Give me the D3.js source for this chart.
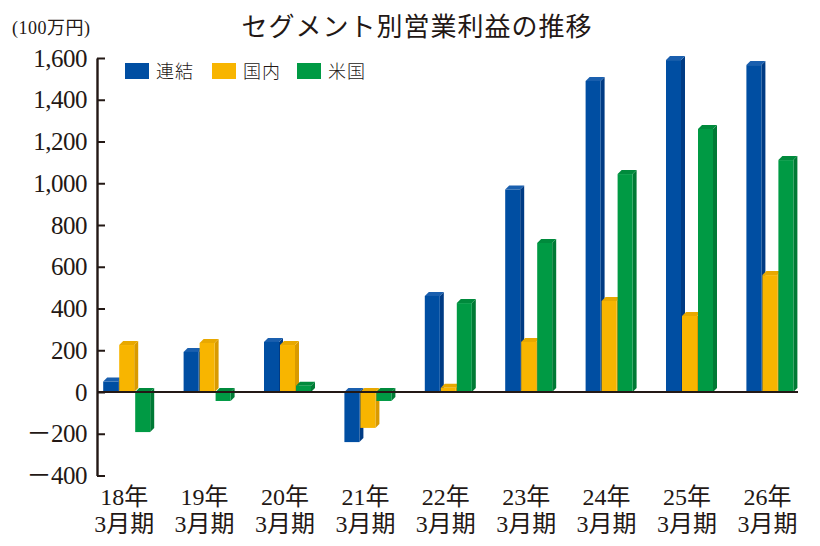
<!DOCTYPE html>
<html>
<head>
<meta charset="utf-8">
<script src="https://cdn.jsdelivr.net/npm/d3@7"></script>
<style>
  body { margin: 0; background: #fff; }
  svg { display: block; }
</style>
</head>
<body>
<svg id="chart"></svg>
<script>
// data
const periods = ['18年', '19年', '20年', '21年', '22年', '23年', '24年', '25年', '26年'];
const seriesNames = ['連結', '国内', '米国'];
const consolidated = [50, 192, 240, -240, 460, 970, 1490, 1590, 1566];
const domestic = [225, 235, 225, -172, 20, 240, 436, 364, 560];
const us = [-192, -43, 30, -43, 426, 714, 1044, 1260, 1111];
const yTicks = [-400, -200, 0, 200, 400, 600, 800, 1000, 1200, 1400, 1600];

const w = 820, h = 546;
const ink = '#231815';
const front = ['#004ea2', '#f8b500', '#009a44'];
const side = ['#003b84', '#d99a00', '#007a35'];
const cap = ['#1a5fae', '#e8a800', '#008a3c'];
const dep = 4; // 3D depth

const svg = d3.select('#chart').attr('width', w).attr('height', h);

const ys = d3.scaleLinear().domain([-400, 1600]).range([475.5, 58]);
const xs = d3.scaleBand().domain(periods).range([87, 810.6]);
const xi = d3.scaleBand().domain(seriesNames).range([-24, 24]);
const barW = 15;

const table = periods.map((p, i) => ({
  period: p,
  vals: [consolidated[i], domestic[i], us[i]]
}));

// bars
const groups = svg.append('g')
  .selectAll('g')
  .data(table)
  .enter()
  .append('g')
  .attr('transform', d => 'translate(' + (xs(d.period) + xs.bandwidth() / 2) + ',0)');

groups.each(function(d) {
  const g = d3.select(this);
  d.vals.forEach((v, k) => {
    const x0 = xi(seriesNames[k]);
    const x1 = x0 + barW;
    const yTop = Math.min(ys(v), ys(0));
    const yBot = Math.max(ys(v), ys(0));
    // side face
    g.append('polygon')
      .attr('points', [[x1, yTop], [x1 + dep, yTop - dep], [x1 + dep, yBot - dep], [x1, yBot]].join(' '))
      .attr('fill', side[k]);
    // top face
    g.append('polygon')
      .attr('points', [[x0, yTop], [x0 + dep, yTop - dep], [x1 + dep, yTop - dep], [x1, yTop]].join(' '))
      .attr('fill', cap[k]);
    // front face
    g.append('rect')
      .attr('x', x0)
      .attr('y', yTop)
      .attr('width', barW)
      .attr('height', yBot - yTop)
      .attr('fill', front[k]);
  });
});

// zero line
svg.append('line')
  .attr('x1', 97).attr('x2', 798)
  .attr('y1', ys(0)).attr('y2', ys(0))
  .attr('stroke', ink)
  .attr('stroke-width', 2.2);

// y axis
const fmt = d3.format(',');
const yAxis = svg.append('g')
  .attr('transform', 'translate(97,0)')
  .call(d3.axisLeft(ys)
    .tickValues(yTicks)
    .tickSize(-8)
    .tickSizeOuter(0)
    .tickPadding(10)
    .tickFormat(d => d < 0 ? '－' + fmt(-d) : fmt(d)));

yAxis.select('.domain').attr('stroke', ink).attr('stroke-width', 2.4);
yAxis.selectAll('.tick line').attr('stroke', ink).attr('stroke-width', 2);
yAxis.selectAll('.tick text')
  .attr('fill', ink)
  .style('font', '25px "Liberation Serif", "Noto Sans CJK JP", serif')
  .style('letter-spacing', '-0.5px');

// x labels
const xl = svg.append('g')
  .selectAll('text')
  .data(periods)
  .enter()
  .append('text')
  .attr('x', d => xs(d) + xs.bandwidth() / 2 - 3)
  .attr('text-anchor', 'middle')
  .attr('fill', ink)
  .style('font', '24px "Liberation Serif", "Noto Sans CJK JP", serif');
xl.append('tspan').attr('y', 505).text(d => d);
xl.append('tspan').attr('y', 532).attr('x', d => xs(d) + xs.bandwidth() / 2 - 3).text('3月期');

// unit
svg.append('text')
  .attr('x', 12)
  .attr('y', 34)
  .attr('fill', ink)
  .style('font', '18px "Liberation Serif", "Noto Sans CJK JP", serif')
  .style('letter-spacing', '0.5px')
  .text('(100万円)');

// title
svg.append('text')
  .attr('x', 417)
  .attr('y', 36)
  .attr('text-anchor', 'middle')
  .attr('fill', ink)
  .style('font', '400 26px "Noto Sans CJK JP", sans-serif')
  .style('letter-spacing', '1px')
  .text('セグメント別営業利益の推移');

// legend
const legX = [125, 212, 297];
const leg = svg.append('g')
  .selectAll('g')
  .data(seriesNames)
  .enter()
  .append('g')
  .attr('transform', (d, i) => 'translate(' + legX[i] + ',63)');
leg.append('rect')
  .attr('width', 24)
  .attr('height', 16)
  .attr('fill', (d, i) => front[i]);
leg.append('text')
  .attr('x', 31)
  .attr('y', 15)
  .attr('fill', ink)
  .style('font', '300 18px "Noto Sans CJK JP", sans-serif')
  .style('letter-spacing', '1px')
  .text(d => d);
</script>
</body>
</html>
